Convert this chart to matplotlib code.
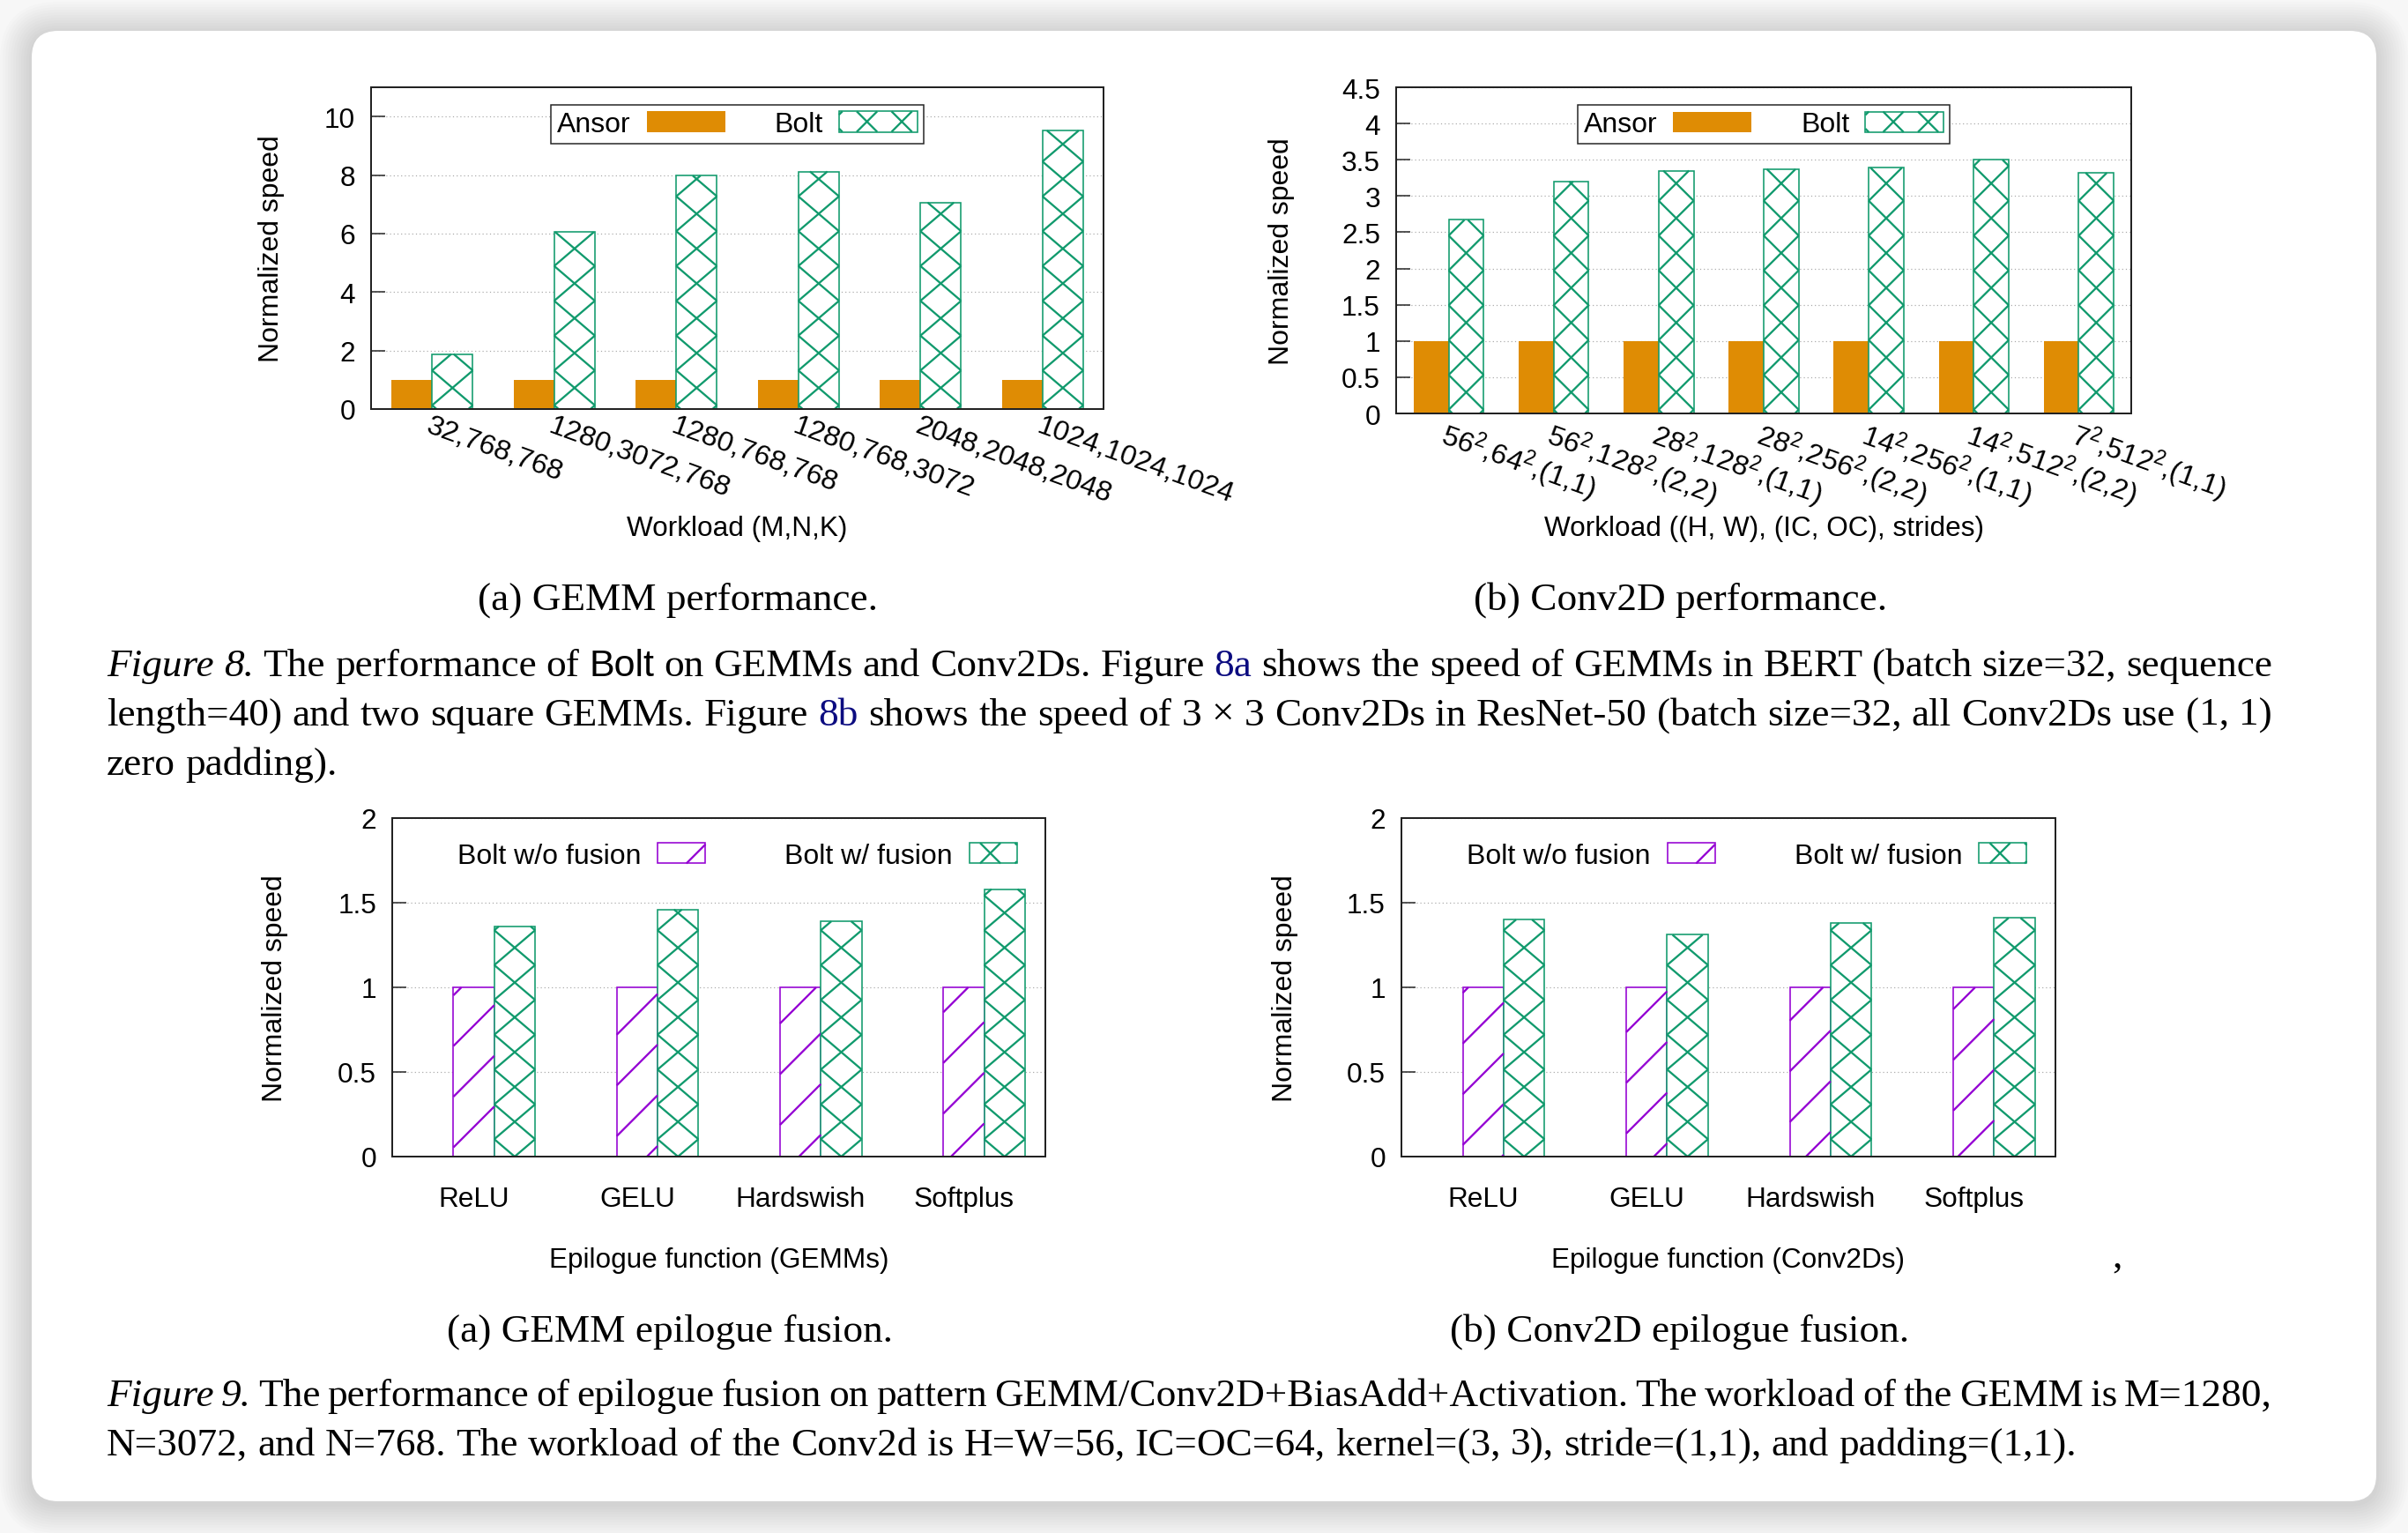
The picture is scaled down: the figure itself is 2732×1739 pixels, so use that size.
import numpy as np
import matplotlib
matplotlib.use("Agg")
import matplotlib.pyplot as plt
from matplotlib.collections import LineCollection
from matplotlib.legend_handler import HandlerBase
from matplotlib.patches import FancyBboxPatch, Patch, Rectangle
from matplotlib.ticker import FormatStrFormatter
from matplotlib.transforms import Affine2D

# ---- data ----
gemm_workloads = ["32,768,768", "1280,3072,768", "1280,768,768",
                  "1280,768,3072", "2048,2048,2048", "1024,1024,1024"]
gemm_ansor = [1.0, 1.0, 1.0, 1.0, 1.0, 1.0]
gemm_bolt = [1.88, 6.05, 7.98, 8.12, 7.06, 9.52]

conv_workloads = [r"$\mathregular{56^2}$,$\mathregular{64^2}$,(1,1)",
                  r"$\mathregular{56^2}$,$\mathregular{128^2}$,(2,2)",
                  r"$\mathregular{28^2}$,$\mathregular{128^2}$,(1,1)",
                  r"$\mathregular{28^2}$,$\mathregular{256^2}$,(2,2)",
                  r"$\mathregular{14^2}$,$\mathregular{256^2}$,(1,1)",
                  r"$\mathregular{14^2}$,$\mathregular{512^2}$,(2,2)",
                  r"$\mathregular{7^2}$,$\mathregular{512^2}$,(1,1)"]
conv_ansor = [1.0, 1.0, 1.0, 1.0, 1.0, 1.0, 1.0]
conv_bolt = [2.67, 3.20, 3.35, 3.37, 3.39, 3.50, 3.32]

epilogues = ["ReLU", "GELU", "Hardswish", "Softplus"]
gemm_nofuse = [1.0, 1.0, 1.0, 1.0]
gemm_fuse = [1.36, 1.46, 1.39, 1.58]
conv_nofuse = [1.0, 1.0, 1.0, 1.0]
conv_fuse = [1.40, 1.31, 1.38, 1.41]

fig8_lines = [
    [("Figure 8.", "it"), ("The performance of", "rm"), ("Bolt", "sf"),
     ("on GEMMs and Conv2Ds. Figure", "rm"), ("8a", "link"),
     ("shows the speed of GEMMs in BERT (batch size=32, sequence", "rm")],
    [("length=40) and two square GEMMs. Figure", "rm"), ("8b", "link"),
     ("shows the speed of 3 \u00d7 3 Conv2Ds in ResNet-50 (batch size=32, all Conv2Ds use (1, 1)", "rm")],
    [("zero padding).", "rm")],
]
fig9_lines = [
    [("Figure 9.", "it"),
     ("The performance of epilogue fusion on pattern GEMM/Conv2D+BiasAdd+Activation. "
      "The workload of the GEMM is M=1280,", "rm")],
    [("N=3072, and N=768. The workload of the Conv2d is H=W=56, IC=OC=64, "
      "kernel=(3, 3), stride=(1,1), and padding=(1,1).", "rm")],
]

ORANGE = "#df8c04"
GREEN = "#119a6d"
PURPLE = "#9400d3"
FRAME = "#222222"

plt.rcParams["font.family"] = ["Liberation Sans", "DejaVu Sans"]
SERIF = ["Liberation Serif", "DejaVu Serif"]

W, H = 2732, 1740
fig = plt.figure(figsize=(W / 100, H / 100), dpi=100, facecolor="#f7f7f7")
PX = Affine2D().scale(1, -1).translate(0, H)  # pixel coords, origin top-left


def pt(px):
    return px * 72 / 100


FS = pt(31.5)      # chart text
FS_LEG = pt(32)
FS_CAP = pt(45.3)  # caption text


def px_axes(x0, y0, x1, y1):
    return fig.add_axes([x0 / W, 1 - y1 / H, (x1 - x0) / W, (y1 - y0) / H])


# card with a soft shadow
for i in range(12):
    pad = 3 * (i + 1)
    fig.add_artist(FancyBboxPatch((36 - pad, 36 - pad + 3), 2660 + 2 * pad, 1668 + 2 * pad,
                                  boxstyle=f"round,pad=0,rounding_size={30 + pad}",
                                  transform=PX, facecolor="black", edgecolor="none",
                                  alpha=0.01, zorder=-20))
fig.add_artist(FancyBboxPatch((36, 36), 2660, 1668, boxstyle="round,pad=0,rounding_size=30",
                              transform=PX, facecolor="white", edgecolor="none", zorder=-10))


def hatch_segs(x0, y0, w, h, kind, p, phase, m=None, xoff=0.0):
    x1, y1 = x0 + w, y0 + h
    segs = []

    def clip(xs, ys, s):
        if s > 0:
            xa, xb = max(x0, xs + (y0 - ys) / s), min(x1, xs + (y1 - ys) / s)
        else:
            xa, xb = max(x0, xs + (y1 - ys) / s), min(x1, xs + (y0 - ys) / s)
        if xb - xa > 1e-6:
            segs.append([(xa, ys + s * (xa - xs)), (xb, ys + s * (xb - xs))])

    if kind == "x":
        if m is None:
            m = p / w
        span = m * (w + abs(xoff))
        for k in range(int(np.floor((-span - phase) / p)) - 1, int(np.ceil((h + span - phase) / p)) + 2):
            ys = y0 + phase + k * p
            clip(x0 - xoff, ys, m)
            clip(x0 - xoff, ys, -m)
    else:  # "/" lines y - x = phase (mod p)
        for k in range(int(np.floor((y0 - x1 - phase) / p)) - 1, int(np.ceil((y1 - x0 - phase) / p)) + 2):
            c = phase + k * p
            clip(x0, x0 + c, 1.0)
    return segs


P_X = 39.5     # vertical period of the cross pattern (px)
P_S = 57.5     # spacing of the slash pattern (px)
HATCH_LW = pt(2.3)


def add_hatch(ax, bars, kind, color, p, phase):
    segs = []
    for r in bars.patches:
        (xa, ya), (xb, yb) = ax.transData.transform(
            [(r.get_x(), r.get_y()), (r.get_x() + r.get_width(), r.get_y() + r.get_height())])
        segs += hatch_segs(xa, ya, xb - xa, yb - ya, kind, p, phase)
    inv = ax.transData.inverted()
    segs = [inv.transform(np.array(s)) for s in segs]
    ax.add_collection(LineCollection(segs, colors=color, linewidths=HATCH_LW,
                                     capstyle="butt", zorder=2.2))


class HatchHandler(HandlerBase):
    def __init__(self, color, kind, xoff=0.0, frac=0.6):
        super().__init__()
        self.color, self.kind, self.xoff, self.frac = color, kind, xoff, frac

    def create_artists(self, legend, orig_handle, xdescent, ydescent, width, height, fontsize, trans):
        x0, y0 = -xdescent, -ydescent
        rect = Rectangle((x0, y0), width, height, facecolor="white", edgecolor=self.color,
                         lw=pt(1.6), transform=trans)
        if self.kind == "x":
            p = pt(P_X)
            segs = hatch_segs(x0, y0, width, height, "x", p, height / 2 - p / 2, m=1.0,
                              xoff=pt(self.xoff))
        else:
            segs = hatch_segs(x0, y0, width, height, "/", pt(P_S), y0 - x0 - self.frac * width)
        lc = LineCollection(segs, colors=self.color, linewidths=HATCH_LW, capstyle="butt",
                            transform=trans)
        return [rect, lc]


def style_axes(ax, yticks):
    ax.set_yticks(yticks)
    ax.yaxis.set_major_formatter(FormatStrFormatter("%g"))
    ax.tick_params(axis="y", direction="in", length=pt(16), width=pt(1.5), pad=pt(18),
                   labelsize=FS, color=FRAME, labelcolor="black")
    ax.tick_params(axis="x", length=0, labelsize=FS, labelcolor="black")
    for s in ax.spines.values():
        s.set_linewidth(pt(2))
        s.set_color(FRAME)
    ax.grid(axis="y", color="#a8a8a8", lw=pt(1.2), linestyle=(0, (1, 2.5)))
    ax.set_axisbelow(True)


def perf_chart(ax, labels, ansor, bolt, ymax, yticks):
    x = np.arange(len(labels))
    bw = 1 / 3
    ax.set_xlim(-0.5, len(labels) - 0.5)
    ax.set_ylim(0, ymax)
    ax.bar(x - bw / 2, ansor, bw, color=ORANGE, lw=0, zorder=2)
    bars = ax.bar(x + bw / 2, bolt, bw, facecolor="white", edgecolor=GREEN, lw=pt(1.6), zorder=2)
    add_hatch(ax, bars, "x", GREEN, P_X, 24 - P_X / 2)
    style_axes(ax, yticks)
    ax.set_xticks(x)
    ax.set_xticklabels(labels, rotation=-20, ha="left", va="top", rotation_mode="anchor")
    ax.tick_params(axis="x", pad=pt(4), labelsize=pt(32.5))
    h_ansor = Patch(facecolor=ORANGE, edgecolor=ORANGE, lw=0)
    h_bolt = Patch(facecolor="white", edgecolor=GREEN)
    leg = ax.legend([h_ansor, h_bolt], ["Ansor", "Bolt"], ncol=2, loc="upper center",
                    bbox_to_anchor=(0.5, 0.945), borderaxespad=0, markerfirst=False,
                    fontsize=FS_LEG, handlelength=2.78, handleheight=0.74,
                    handletextpad=0.56, columnspacing=1.75, borderpad=0.22,
                    fancybox=False, framealpha=1, edgecolor=FRAME,
                    handler_map={h_bolt: HatchHandler(GREEN, "x", xoff=-12)})
    leg.get_frame().set_linewidth(pt(1.5))


def fusion_chart(ax, nofuse, fuse, slash_phase):
    x = np.arange(len(epilogues))
    bw = 0.25
    ax.set_xlim(-0.5, len(epilogues) - 0.5)
    ax.set_ylim(0, 2)
    b1 = ax.bar(x, nofuse, bw, facecolor="white", edgecolor=PURPLE, lw=pt(1.6), zorder=2)
    b2 = ax.bar(x + bw, fuse, bw, facecolor="white", edgecolor=GREEN, lw=pt(1.6), zorder=2)
    add_hatch(ax, b1, "/", PURPLE, P_S, slash_phase)
    add_hatch(ax, b2, "x", GREEN, P_X, -P_X / 2)
    style_axes(ax, [0, 0.5, 1, 1.5, 2])
    ax.set_xticks(x)
    ax.set_xticklabels(epilogues)
    ax.tick_params(axis="x", pad=pt(33))
    h1 = Patch(facecolor="white", edgecolor=PURPLE)
    h2 = Patch(facecolor="white", edgecolor=GREEN)
    ax.legend([h1, h2], ["Bolt w/o fusion", "Bolt w/ fusion"], ncol=2, loc="center",
              bbox_to_anchor=(0.528, 0.888), frameon=False, markerfirst=False,
              fontsize=FS_LEG, handlelength=1.69, handleheight=0.74,
              handletextpad=0.6, columnspacing=2.8,
              handler_map={h1: HatchHandler(PURPLE, "/", frac=0.6),
                           h2: HatchHandler(GREEN, "x", xoff=-4)})


axA = px_axes(421, 100, 1252, 465)
axB = px_axes(1584, 100, 2418, 470)
axC = px_axes(445, 929, 1186, 1313)
axD = px_axes(1590, 929, 2332, 1313)

perf_chart(axA, gemm_workloads, gemm_ansor, gemm_bolt, 11, [0, 2, 4, 6, 8, 10])
perf_chart(axB, conv_workloads, conv_ansor, conv_bolt, 4.5, np.arange(0, 4.51, 0.5))
fusion_chart(axC, gemm_nofuse, gemm_fuse, 38)
fusion_chart(axD, conv_nofuse, conv_fuse, 45.6)


def ptext(x, y, s, **kw):
    kw.setdefault("ha", "center")
    kw.setdefault("va", "center")
    return fig.text(x, y, s, transform=PX, **kw)


# axis titles
ptext(836, 600, "Workload (M,N,K)", fontsize=FS)
ptext(2002, 600, "Workload ((H, W), (IC, OC), strides)", fontsize=FS)
ptext(816, 1430, "Epilogue function (GEMMs)", fontsize=FS)
ptext(1961, 1430, "Epilogue function (Conv2Ds)", fontsize=FS)
for x, y in [(308, 282), (1454, 285), (312, 1121), (1458, 1121)]:
    ptext(x, y, "Normalized speed", fontsize=pt(32), rotation=90)
ptext(2402, 1427, ",", fontsize=FS_CAP, family=SERIF)

# sub-captions
for x, y, s in [(769, 692, "(a) GEMM performance."), (1907, 692, "(b) Conv2D performance."),
                (760, 1522, "(a) GEMM epilogue fusion."), (1906, 1522, "(b) Conv2D epilogue fusion.")]:
    ptext(x, y, s, va="baseline", fontsize=FS_CAP, family=SERIF)

STYLES = {
    "rm": dict(family=SERIF, fontsize=FS_CAP),
    "it": dict(family=SERIF, fontsize=FS_CAP, style="italic"),
    "sf": dict(family=["Liberation Sans", "DejaVu Sans"], fontsize=pt(43)),
    "link": dict(family=SERIF, fontsize=FS_CAP, color="#0c0c80"),
}
CAP_L, CAP_R = 121, 2578
renderer = fig.canvas.get_renderer()


def caption_line(runs, y, justify):
    words = [(w, st) for text, st in runs for w in text.split()]
    arts = [fig.text(0, y, w, transform=PX, ha="left", va="baseline", **STYLES[st]) for w, st in words]
    widths = [a.get_window_extent(renderer).width for a in arts]
    gap = (CAP_R - CAP_L - sum(widths)) / (len(arts) - 1) if justify else 11.2
    x = CAP_L
    for a, wd in zip(arts, widths):
        a.set_x(x)
        x += wd + gap


for lines, y0 in [(fig8_lines, 767), (fig9_lines, 1595)]:
    for i, runs in enumerate(lines):
        caption_line(runs, y0 + 56 * i, justify=(i < len(lines) - 1))

fig.savefig("out.png", dpi=100, facecolor=fig.get_facecolor())
